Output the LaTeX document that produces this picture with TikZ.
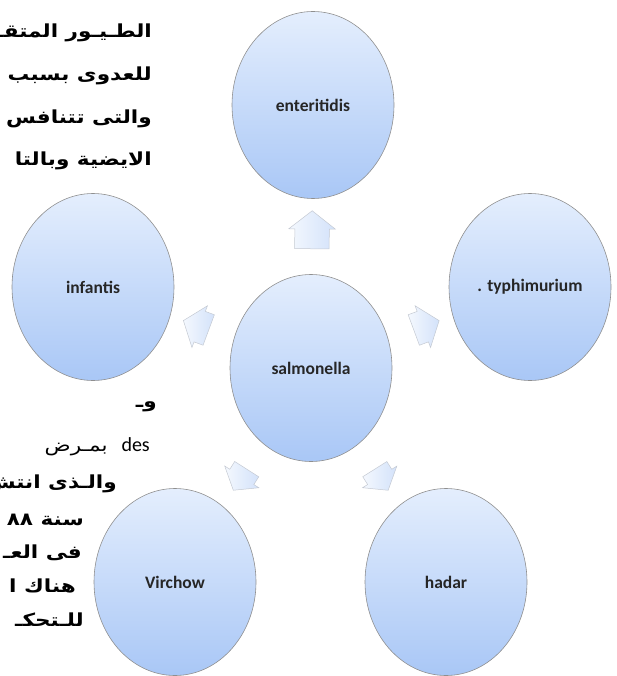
\documentclass[tikz,border=0pt]{standalone}
\usepackage{fontspec}
\setmainfont{Carlito}
\newfontfamily\arabicfont[Script=Arabic, FakeStretch=1.2]{DejaVu Sans}
\TeXXeTstate=1
\usetikzlibrary{shapes.geometric,shapes.arrows,calc}
\definecolor{SeroTop}{HTML}{E4EEFD}
\definecolor{SeroBot}{HTML}{A9C7F6}
\definecolor{SeroLine}{HTML}{8F8F8F}
\definecolor{FlowLo}{HTML}{F4F8FE}
\definecolor{FlowHi}{HTML}{D3E2FA}
\definecolor{FlowLine}{HTML}{C4C9D2}

\begin{document}
\begin{tikzpicture}[x=1pt, y=-1pt,
  sero/.style={ellipse, draw=SeroLine, line width=0.6pt,
               top color=SeroTop, bottom color=SeroBot,
               minimum width=162pt, minimum height=187pt, inner sep=0pt,
               font=\fontsize{17.5}{17.5}\selectfont\bfseries, text=black!85},
  flow/.style={single arrow, draw=FlowLine, line width=0.5pt,
               left color=FlowLo, right color=FlowHi,
               minimum height=38pt, minimum width=46pt,
               inner xsep=0pt, inner ysep=17pt,
               single arrow head extend=6pt, single arrow tip angle=104,
               sloped, allow upside down},
  sideflow/.style={flow, minimum height=27pt, minimum width=44pt,
                   inner ysep=16pt},
  lowflow/.style={flow, minimum height=25pt, minimum width=40pt,
                  inner ysep=14pt},
  para/.style={anchor=east, inner sep=0pt,
               font=\arabicfont\fontsize{18}{18}\selectfont\bfseries}
]
  \useasboundingbox (0,0) rectangle (616,676);
  \clip (0,0) rectangle (616,676);

  % text of the page behind the diagram
  \node[para] (p1) at (152,33)  {\beginR الطـيـور المتقـد\endR};
  \node[para] (p2) at (152,76)  {\beginR للعدوى بسبب\endR};
  \node[para] (p3) at (152,119) {\beginR والتى تتنافس\endR};
  \node[para] (p4) at (152,161) {\beginR الايضية وبالتا\endR};
  \node[para] (p5) at (157,407) {\beginR وـ\endR};
  \node[para, font=\arabicfont\fontsize{18}{18}\selectfont] (p6) at (150,447)
    {\beginR بمـرض\endR\hspace{14pt}{\normalfont\fontsize{20}{20}\selectfont des}};
  \node[para] (p7) at (117,484) {\beginR والـذى انتش\endR};
  \node[para] (p8) at (84,520)  {\beginR سنة ٨٨\endR};
  \node[para] (p9) at (82,553)  {\beginR فى العـ\endR};
  \node[para] (p10) at (76,586) {\beginR هناك ا\endR};
  \node[para] (p11) at (84,620) {\beginR للـتحكـ\endR};

  % serotypes
  \node[sero] (sal) at (311,368) {salmonella};
  \node[sero] (ent) at (313,105) {enteritidis};
  \node[sero] (typ) at (530,287) {. typhimurium};
  \node[sero] (had) at (446,582) {hadar};
  \node[sero] (vir) at (175,582) {Virchow};
  \node[sero] (inf) at (93,287)  {infantis};

  \path (sal) -- node[flow] (toEnt) {} (ent);
  \path (sal) -- node[sideflow] (toTyp) {} (typ);
  \path (sal) -- node[lowflow] (toHad) {} (had);
  \path (sal) -- node[lowflow] (toVir) {} (vir);
  \path (sal) -- node[sideflow] (toInf) {} (inf);
\end{tikzpicture}
\end{document}
